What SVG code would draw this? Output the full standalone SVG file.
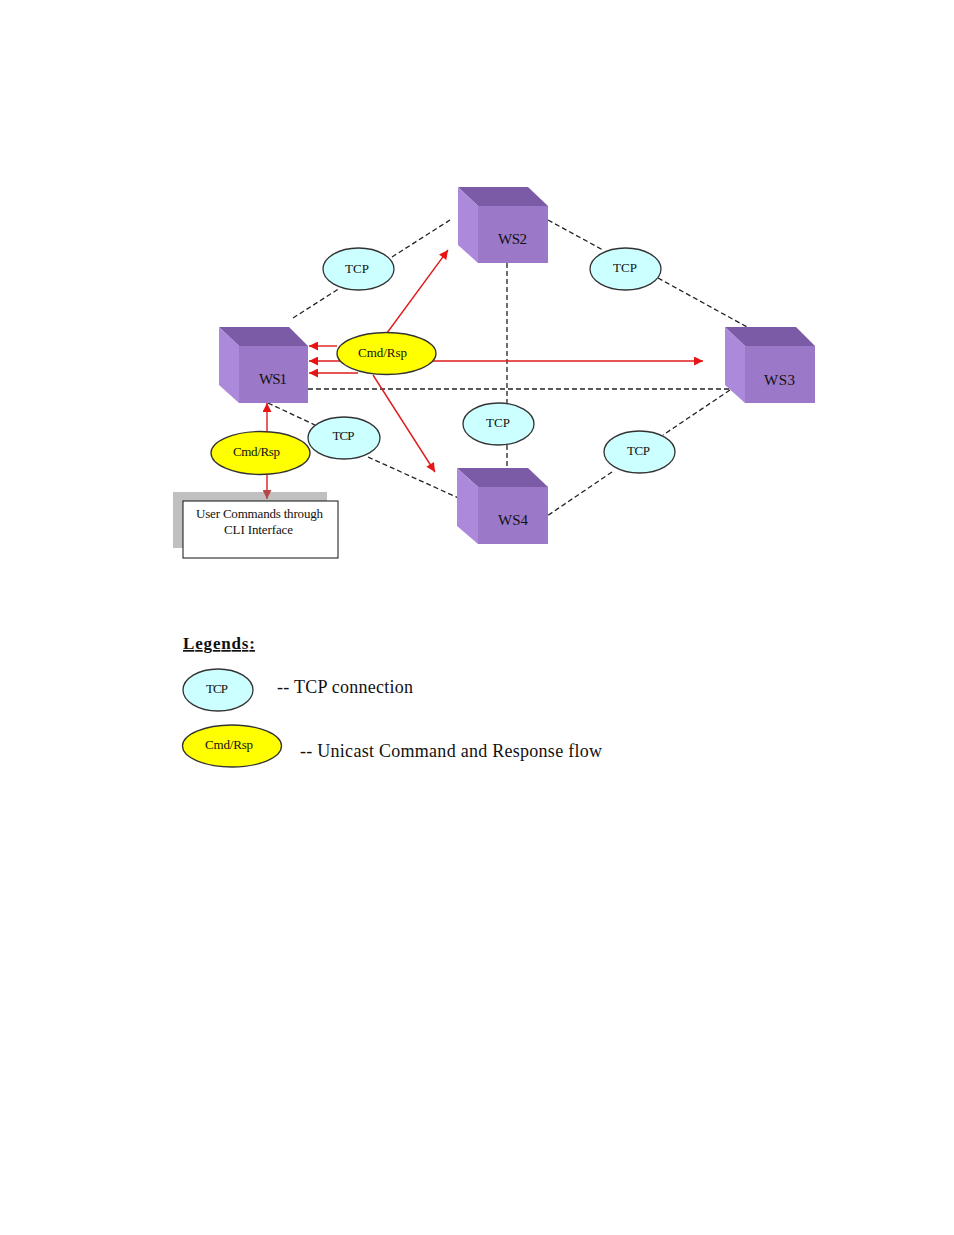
<svg xmlns="http://www.w3.org/2000/svg" width="954" height="1235" viewBox="0 0 954 1235">
<style>
.top{fill:#7b5ba6}
.front{fill:#9c78c8}
.side{fill:#ad89dc}
.lbl{font-family:"Liberation Serif","Times New Roman",serif;fill:#111;text-anchor:middle}
.ws{font-size:15px}
.sm{font-size:13px}
.tcp{fill:#ccffff;stroke:#333;stroke-width:1.3}
.cmd{fill:#ffff00;stroke:#333;stroke-width:1.3}
.dash{stroke:#222;stroke-width:1.3;stroke-dasharray:5,3;fill:none}
.red{stroke:#e01a1a;stroke-width:1.4;fill:none}
.leg{font-family:"Liberation Serif","Times New Roman",serif;fill:#111;font-size:18px}
</style>
<defs>
<marker id="ah" viewBox="0 0 10 10" refX="10" refY="5" markerWidth="10" markerHeight="9" markerUnits="userSpaceOnUse" orient="auto">
<path d="M0,0 L10,5 L0,10 Z" fill="#e81414"/>
</marker>
<marker id="ahs" viewBox="0 0 10 10" refX="0" refY="5" markerWidth="10" markerHeight="9" markerUnits="userSpaceOnUse" orient="auto">
<path d="M10,0 L0,5 L10,10 Z" fill="#e81414"/>
</marker>
<marker id="ahd" viewBox="0 0 10 10" refX="10" refY="5" markerWidth="10" markerHeight="9" markerUnits="userSpaceOnUse" orient="auto">
<path d="M0,0 L10,5 L0,10 Z" fill="#b84848"/>
</marker>
</defs>
<rect width="954" height="1235" fill="#fff"/>

<g id="cli">
<rect x="173" y="492" width="154" height="56" fill="#c0c0c0"/>
<rect x="183" y="501" width="155" height="57" fill="#fff" stroke="#111" stroke-width="1"/>
<text class="lbl" font-size="13" x="259.5" y="518" textLength="127">User Commands through</text>
<text class="lbl" font-size="13" x="258.5" y="534" textLength="69">CLI Interface</text>
</g>

<g id="connectors">
<line class="dash" x1="293" y1="318" x2="340" y2="288"/>
<line class="dash" x1="392" y1="257" x2="450" y2="220"/>
<line class="dash" x1="548" y1="220" x2="603" y2="250"/>
<line class="dash" x1="658" y1="278" x2="758" y2="333"/>
<line class="dash" x1="507" y1="263" x2="507" y2="403"/>
<line class="dash" x1="507" y1="445" x2="507" y2="470"/>
<line class="dash" x1="308" y1="389" x2="732" y2="389"/>
<line class="dash" x1="730" y1="390" x2="663" y2="435"/>
<line class="dash" x1="612" y1="472" x2="547" y2="516"/>
<line class="dash" x1="268" y1="403" x2="315" y2="425"/>
<line class="dash" x1="368" y1="457" x2="463" y2="500"/>
<line class="red" x1="387" y1="333" x2="448" y2="250" marker-end="url(#ah)"/>
<line class="red" x1="337" y1="346" x2="309" y2="346" marker-end="url(#ah)"/>
<line class="red" x1="309" y1="361" x2="703" y2="361" marker-start="url(#ahs)" marker-end="url(#ah)"/>
<line class="red" x1="358" y1="373" x2="309" y2="373" marker-end="url(#ah)"/>
<line class="red" x1="373" y1="375" x2="435" y2="472" marker-end="url(#ah)"/>
<line class="red" x1="267" y1="432" x2="267" y2="403" marker-end="url(#ah)"/>
<line class="red" x1="267" y1="475" x2="267" y2="492"/>
<line stroke="#b84848" stroke-width="1.4" x1="267" y1="492" x2="267" y2="499" marker-end="url(#ahd)"/>
</g>

<g id="ws2">
<polygon class="top" points="458,187 528,187 548,206 478,206"/>
<polygon class="side" points="458,187 478,206 478,263 458,245"/>
<rect class="front" x="478" y="206" width="70" height="57"/>
<text class="lbl ws" x="512.5" y="244" textLength="29">WS2</text>
</g>
<g id="ws1">
<polygon class="top" points="219,327 289,327 308,346 239,346"/>
<polygon class="side" points="219,327 239,346 239,403 219,385"/>
<rect class="front" x="239" y="346" width="69" height="57"/>
<text class="lbl ws" x="273" y="384" textLength="28">WS1</text>
</g>
<g id="ws3">
<polygon class="top" points="725,327 796,327 815,346 745,346"/>
<polygon class="side" points="725,327 745,346 745,403 725,385"/>
<rect class="front" x="745" y="346" width="70" height="57"/>
<text class="lbl ws" x="779.5" y="385" textLength="31">WS3</text>
</g>
<g id="ws4">
<polygon class="top" points="457,468 528,468 548,487 478,487"/>
<polygon class="side" points="457,468 478,487 478,544 457,526"/>
<rect class="front" x="478" y="487" width="70" height="57"/>
<text class="lbl ws" x="513" y="525" textLength="30">WS4</text>
</g>

<g id="tcp1">
<ellipse class="tcp" cx="358.5" cy="269" rx="35.5" ry="21"/>
<text class="lbl sm" x="357" y="273" textLength="24">TCP</text>
</g>
<g id="tcp2">
<ellipse class="tcp" cx="625.5" cy="269" rx="35.5" ry="21"/>
<text class="lbl sm" x="625" y="272" textLength="24">TCP</text>
</g>
<g id="tcp3">
<ellipse class="tcp" cx="344" cy="438" rx="36" ry="21"/>
<text class="lbl sm" x="343.5" y="440" textLength="22">TCP</text>
</g>
<g id="tcp4">
<ellipse class="tcp" cx="498.5" cy="424" rx="35.5" ry="21"/>
<text class="lbl sm" x="498" y="427" textLength="24">TCP</text>
</g>
<g id="tcp5">
<ellipse class="tcp" cx="639.5" cy="452" rx="35.5" ry="21"/>
<text class="lbl sm" x="638.5" y="455" textLength="23">TCP</text>
</g>

<g id="cmd1">
<ellipse class="cmd" cx="386.5" cy="353.5" rx="49.5" ry="21"/>
<text class="lbl sm" x="382.5" y="357" textLength="49">Cmd/Rsp</text>
</g>
<g id="cmd2">
<ellipse class="cmd" cx="260.5" cy="453" rx="49.5" ry="21.5"/>
<text class="lbl sm" x="256.5" y="456" textLength="47">Cmd/Rsp</text>
</g>

<g id="legend">
<text x="183" y="649" font-family="Liberation Serif,Times New Roman,serif" font-size="17" font-weight="bold" fill="#111" textLength="72" text-decoration="underline">Legends:</text>
<ellipse class="tcp" cx="218" cy="690" rx="35" ry="21"/>
<text class="lbl sm" x="217" y="693" textLength="22">TCP</text>
<text class="leg" x="277" y="693" textLength="136">-- TCP connection</text>
<ellipse class="cmd" cx="232" cy="746" rx="49.5" ry="21"/>
<text class="lbl sm" x="229" y="749" textLength="48">Cmd/Rsp</text>
<text class="leg" x="300" y="757" textLength="302">-- Unicast Command and Response flow</text>
</g>
</svg>
